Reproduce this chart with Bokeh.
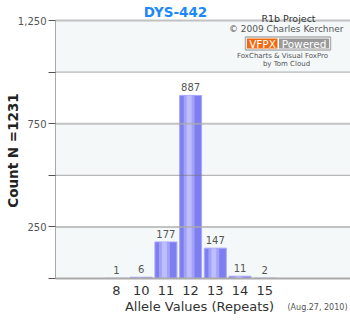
import math
from bokeh.plotting import figure
from bokeh.models import Range1d, FixedTicker, BoxAnnotation, Label, ColumnDataSource
from bokeh.transform import dodge
from bokeh.core.properties import value
from bokeh.embed import file_html
from bokeh.resources import INLINE

# ---- data ----
alleles = ["8", "10", "11", "12", "13", "14", "15"]
counts = [1, 6, 177, 887, 147, 11, 2]
y_ticks = [0, 250, 500, 750, 1000, 1250]
y_tick_labels = ["", "250", "", "750", "", "1,250"]
light_bands = [(0, 250), (500, 750), (1000, 1250)]
title_text = "DYS-442"
y_title = "Count N =1231"
x_title = "Allele Values (Repeats)"
date_text = "(Aug.27, 2010)"
credit_lines = ["R1b Project", "\u00a9 2009 Charles Kerchner"]
badge_left, badge_right = "VFPX", "Powered"
foot_lines = ["FoxCharts & Visual FoxPro", "by Tom Cloud"]

# ---- geometry (frame covers the whole canvas, axes pinned inside) ----
W, H = 350, 320
AX_L, AX_B, AX_T = 55, 278, 20          # pixel position of y axis, x axis, top rule
SLOT = 24.7                             # pixels per category
FIRST = 116                             # pixel centre of first category
PX_PER_UNIT = (AX_B - AX_T) / (y_ticks[-1] - y_ticks[0])
x0 = -FIRST / SLOT
x1 = (W - FIRST) / SLOT
y0 = -(H - AX_B) / PX_PER_UNIT
y1 = y_ticks[-1] + AX_T / PX_PER_UNIT
FONT = "DejaVu Sans"


def px2x(px):
    return x0 + px / W * (x1 - x0)


def px2y(py):
    return y1 - py / H * (y1 - y0)


p = figure(width=W, height=H, output_backend="svg", toolbar_location=None,
           x_range=Range1d(x0, x1), y_range=Range1d(y0, y1),
           min_border_left=0, min_border_right=0, min_border_top=0, min_border_bottom=0,
           outline_line_color=None, background_fill_color="white", border_fill_color="white")

idx = list(range(len(alleles)))
src = ColumnDataSource(dict(x=idx, top=counts, lab=[str(c) for c in counts]))

# background bands
for lo, hi in light_bands:
    p.add_layout(BoxAnnotation(left=px2x(AX_L), right=x1, bottom=lo, top=hi,
                               fill_color="#f4f8f9", fill_alpha=1,
                               line_color=None, level="underlay"))

# bars with a simple shaded look
p.vbar(x="x", top="top", bottom=0, width=0.89, source=src,
       fill_color="#7e7ef0", line_color="#a8a8fb", line_width=1)
p.vbar(x=dodge("x", -0.06), top="top", bottom=0, width=0.44, source=src,
       fill_color="#a2a2f9", line_color=None)
p.vbar(x=dodge("x", -0.06), top="top", bottom=0, width=0.2, source=src,
       fill_color="#bebeff", line_color=None)

# horizontal rules drawn over the bars, slightly transparent
rules = y_ticks[1:]
dark_rules = [v for v in rules if (v // 250) % 2 == 0]
light_rules = [v for v in rules if (v // 250) % 2 == 1]
p.segment(x0=[px2x(AX_L)] * len(dark_rules), x1=[x1] * len(dark_rules), y0=dark_rules,
          y1=dark_rules, line_color="#777777", line_width=1, line_alpha=0.65)
p.segment(x0=[px2x(AX_L)] * len(light_rules), x1=[x1] * len(light_rules), y0=light_rules,
          y1=light_rules, line_color="#aaaaaa", line_width=2, line_alpha=0.7)

# value labels
p.text(x="x", y="top", text="lab", source=src, text_align="center", text_baseline="bottom",
       y_offset=-4, text_font=value(FONT), text_font_size="10px", text_color="#555555")

# axes
p.xgrid.visible = False
p.ygrid.visible = False
xa = p.xaxis[0]
xa.fixed_location = 0
xa.bounds = (px2x(AX_L), x1)
xa.ticker = FixedTicker(ticks=idx)
xa.major_label_overrides = {i: a for i, a in enumerate(alleles)}
xa.major_tick_line_color = None
xa.major_tick_out = 0
xa.major_tick_in = 0
xa.minor_tick_line_color = None
xa.axis_line_color = "#aaaaaa"
xa.axis_line_width = 2
xa.major_label_standoff = 7
xa.major_label_text_font = FONT
xa.major_label_text_font_size = "13px"
xa.major_label_text_color = "#333333"

ya = p.yaxis[0]
ya.fixed_location = px2x(AX_L)
ya.bounds = (y_ticks[0], y_ticks[-1])
ya.ticker = FixedTicker(ticks=y_ticks)
ya.major_label_overrides = {t: s for t, s in zip(y_ticks, y_tick_labels)}
ya.major_tick_out = 7
ya.major_tick_in = 0
ya.major_tick_line_color = "#555555"
ya.minor_tick_line_color = None
ya.axis_line_color = "#aaaaaa"
ya.major_label_standoff = 2
ya.major_label_text_font = FONT
ya.major_label_text_font_size = "10px"
ya.major_label_text_color = "#555555"

# titles
p.add_layout(Label(x=px2x(175), y=px2y(11), text=title_text, text_align="center",
                   text_baseline="middle", text_font=FONT, text_font_size="13.5px",
                   text_font_style="bold", text_color="#1e88f5"))
p.add_layout(Label(x=px2x(12), y=px2y(150), text=y_title, angle=math.pi / 2,
                   text_align="center", text_baseline="middle", text_font=FONT,
                   text_font_size="13.5px", text_font_style="bold", text_color="#222222"))
p.add_layout(Label(x=px2x(199), y=px2y(306), text=x_title, text_align="center",
                   text_baseline="middle", text_font=FONT, text_font_size="13px",
                   text_color="#333333"))
p.add_layout(Label(x=px2x(347), y=px2y(306.5), text=date_text, text_align="right",
                   text_baseline="middle", text_font=FONT, text_font_size="8px",
                   text_color="#555555"))

# credit block
p.add_layout(Label(x=px2x(288), y=px2y(17.5), text=credit_lines[0], text_align="center",
                   text_baseline="middle", text_font=FONT, text_font_size="9.5px",
                   text_color="#333333"))
p.add_layout(Label(x=px2x(343), y=px2y(28.5), text=credit_lines[1], text_align="right",
                   text_baseline="middle", text_font=FONT, text_font_size="9px",
                   text_color="#555555"))
p.add_layout(BoxAnnotation(left=px2x(245), right=px2x(330), top=px2y(36.5), bottom=px2y(49.5),
                           fill_color="white", fill_alpha=1, line_color="black", line_width=1.5))
p.add_layout(BoxAnnotation(left=px2x(246.5), right=px2x(277), top=px2y(38), bottom=px2y(48),
                           fill_color="#f26a10", fill_alpha=1, line_color=None))
p.add_layout(BoxAnnotation(left=px2x(278.5), right=px2x(328.5), top=px2y(38), bottom=px2y(48),
                           fill_color="#9a9a9a", fill_alpha=1, line_color=None))
p.add_layout(Label(x=px2x(262), y=px2y(43), text=badge_left, text_align="center",
                   text_baseline="middle", text_font=FONT, text_font_size="10.5px",
                   text_color="white"))
p.add_layout(Label(x=px2x(303.5), y=px2y(43), text=badge_right, text_align="center",
                   text_baseline="middle", text_font=FONT, text_font_size="10.5px",
                   text_color="white"))
p.add_layout(Label(x=px2x(282), y=px2y(55.5), text=foot_lines[0], text_align="center",
                   text_baseline="middle", text_font=FONT, text_font_size="7px",
                   text_color="#555555"))
p.add_layout(Label(x=px2x(286), y=px2y(63.5), text=foot_lines[1], text_align="center",
                   text_baseline="middle", text_font=FONT, text_font_size="7px",
                   text_color="#555555"))

open("out.html", "w").write(file_html(p, INLINE))
